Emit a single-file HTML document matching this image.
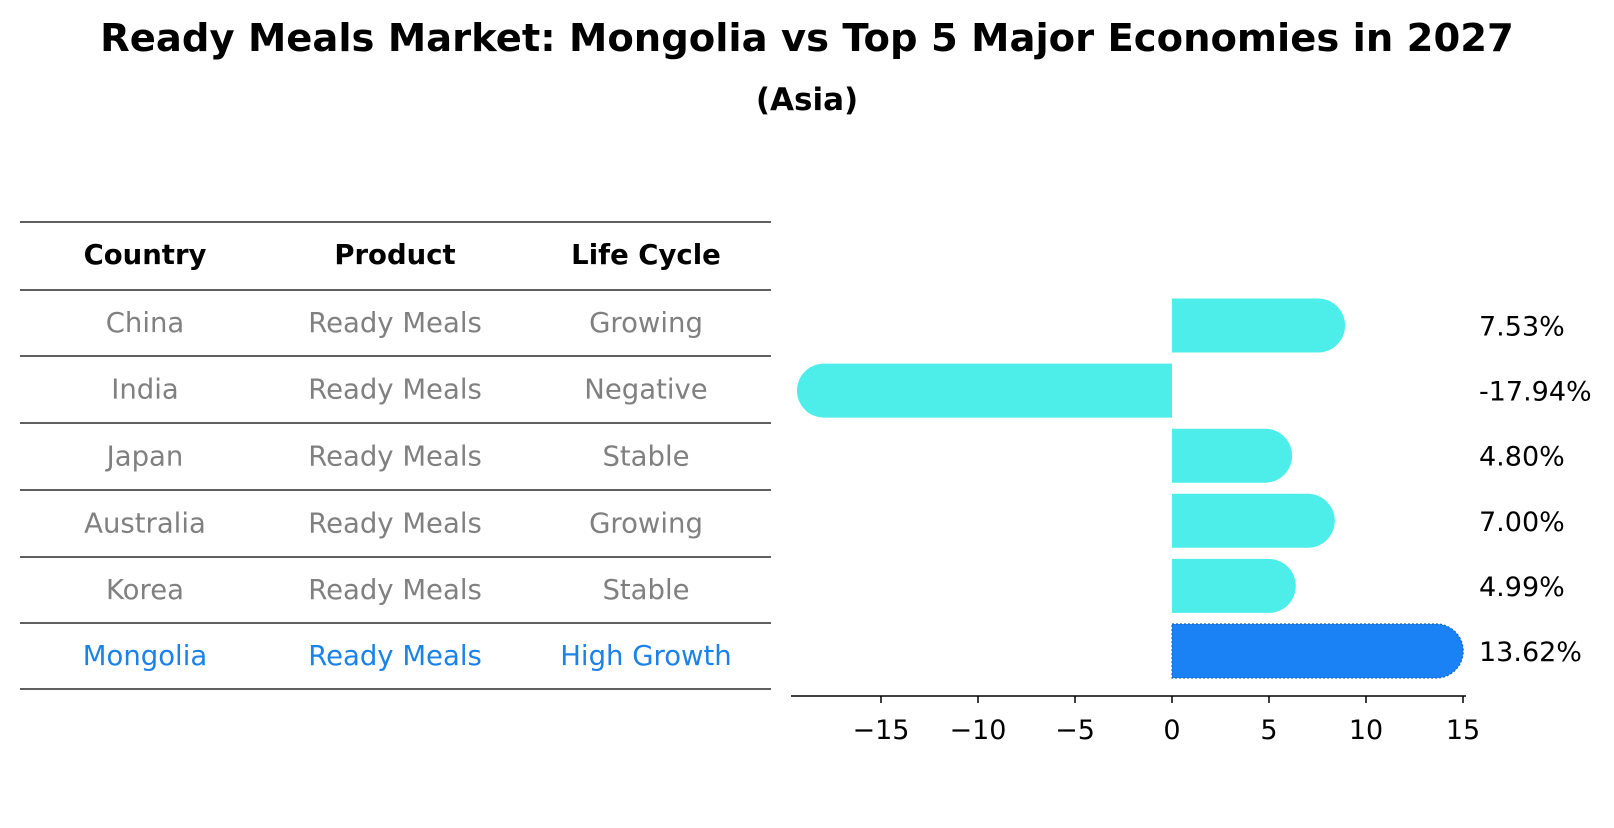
<!DOCTYPE html>
<html><head><meta charset="utf-8"><style>
body{margin:0;background:#fff;font-family:"Liberation Sans","DejaVu Sans",sans-serif;}
svg text{font-family:"DejaVu Sans","Liberation Sans",sans-serif;}
</style></head><body>
<svg width="1614" height="823" xmlns="http://www.w3.org/2000/svg">
<text x="807" y="51" text-anchor="middle" font-size="38.5" font-weight="bold">Ready Meals Market: Mongolia vs Top 5 Major Economies in 2027</text>
<text x="807" y="110" text-anchor="middle" font-size="31" font-weight="bold">(Asia)</text>
<g id="table"></g>
<g id="bars"></g>
</svg>
<script>
const countries=["China","India","Japan","Australia","Korea","Mongolia"];
const products=["Ready Meals","Ready Meals","Ready Meals","Ready Meals","Ready Meals","Ready Meals"];
const lifeCycles=["Growing","Negative","Stable","Growing","Stable","High Growth"];
const growth=[7.53,-17.94,4.80,7.00,4.99,13.62];
const ticks=[-15,-10,-5,0,5,10,15];
const NS="http://www.w3.org/2000/svg";
function mk(tag,attrs,parent,txt){const e=document.createElementNS(NS,tag);for(const k in attrs)e.setAttribute(k,attrs[k]);if(txt!==undefined)e.textContent=txt;parent.appendChild(e);return e;}
const tb=document.getElementById('table');
const lineYs=[222,290,356,423,490,557,623,689];
lineYs.forEach((y,i)=>{const l=mk('line',{x1:20,x2:771,y1:y,y2:y,stroke:'#000','stroke-width':1.2},tb);

});
const colX=[145,395,646];
["Country","Product","Life Cycle"].forEach((h,i)=>{const t=mk('text',{x:colX[i],y:264,'text-anchor':'middle','font-size':27.5,'font-weight':'bold'},tb,h);

});
countries.forEach((c,r)=>{const y=(lineYs[r+1]+lineYs[r+2])/2+9;const col=r===5?'#1a82e8':'#808080';
[c,products[r],lifeCycles[r]].forEach((v,i)=>{const t=mk('text',{x:colX[i],y:y,'text-anchor':'middle','font-size':27.5,fill:col},tb,v);

});});
const bg=document.getElementById('bars');
const x0=1172,ppu=19.4;
const xs=v=>x0+v*ppu;
const rowC=r=>325.5+r*65.1;
const bh=54,rad=27;
growth.forEach((v,r)=>{const cy=rowC(r),top=cy-bh/2;const fill=r===5?'#1a82f5':'#4deeea';
const xe=xs(v);const dir=v>=0?1:-1;
const d=`M${x0},${top} L${xe},${top} A${rad},${rad} 0 0 ${dir>0?1:0} ${xe},${top+bh} L${x0},${top+bh} Z`;
const p=mk('path',{d:d,fill:fill},bg);
if(r===5){p.setAttribute('stroke','#1565c0');p.setAttribute('stroke-dasharray','2,2');p.setAttribute('stroke-width','1.2');}


const t=mk('text',{x:1479,y:cy+10,'font-size':27},bg,(v<0?'-':'')+Math.abs(v).toFixed(2)+'%');

});
const ax=mk('line',{x1:791,x2:1466,y1:696,y2:696,stroke:'#000','stroke-width':1.5},bg);


ticks.forEach(v=>{const tk=mk('line',{x1:xs(v),x2:xs(v),y1:696,y2:703,stroke:'#000','stroke-width':1.5},bg);


const t=mk('text',{x:xs(v),y:739,'text-anchor':'middle','font-size':27},bg,v<0?'\u2212'+Math.abs(v):String(v));

});
</script>
</body></html>
